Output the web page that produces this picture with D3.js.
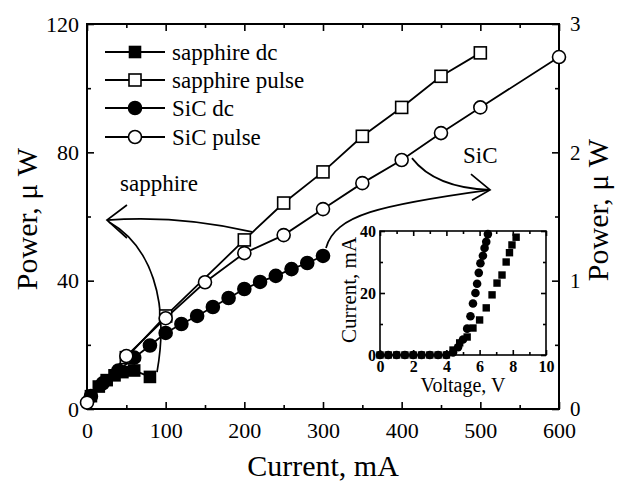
<!DOCTYPE html>
<html>
<head>
<meta charset="utf-8">
<script src="https://cdn.jsdelivr.net/npm/d3@7"></script>
<style>
body { margin: 0; background: #fff; }
text { font-family: "Liberation Serif", "Times New Roman", serif; fill: #000; }
</style>
</head>
<body>
<svg width="618" height="485"></svg>
<script>
// main panel: current (mA) vs power (uW)
var sapphireDcI = [5, 15, 25, 35, 45, 60, 80];
var sapphireDcP = [4, 7, 9, 10.5, 11.5, 12, 10];
var sapphirePulseI = [50, 100, 200, 250, 300, 350, 400, 450, 500];
var sapphirePulseP = [16, 29, 52.7, 64.2, 73.9, 85, 94, 103.7, 111];
var sicDcI = [5, 20, 40, 60, 80, 100, 120, 140, 160, 180, 200, 220, 240, 260, 280, 300];
var sicDcP = [4, 8, 12, 16, 19.8, 23.7, 26.5, 29, 31.8, 34.6, 37.4, 39.6, 41.5, 43.6, 45.5, 47.7];
var sicPulseI = [0, 50, 100, 150, 200, 250, 300, 350, 400, 450, 500, 600];
var sicPulseP = [2, 16.5, 28.3, 39.5, 48.6, 54.2, 62.3, 70.4, 77.6, 86, 94, 109.7];

// inset: voltage (V) vs current (mA)
var sicV = [0, 0.5, 1, 1.5, 2, 2.5, 3, 3.5, 4, 4.4, 4.7, 5.0, 5.25, 5.45, 5.6, 5.75, 5.85, 5.95, 6.05, 6.2, 6.3, 6.4, 6.5];
var sicA = [0, 0, 0, 0, 0, 0, 0, 0, 0, 0.8, 2.5, 5, 8.5, 12.5, 16.6, 20, 23, 26.5, 29.6, 32, 34.5, 36.5, 39];
var sapV = [0, 0.5, 1, 1.5, 2, 2.5, 3, 3.5, 4, 4.4, 4.8, 5.25, 5.6, 6.0, 6.4, 6.75, 7.05, 7.35, 7.6, 7.8, 7.95, 8.2];
var sapA = [0, 0, 0, 0, 0, 0, 0, 0, 0, 1.6, 3.9, 5.8, 8.7, 11.3, 15.2, 19.4, 23.2, 25.8, 30, 33, 35.5, 38];

var xMajor = [0, 100, 200, 300, 400, 500, 600];
var xMinor = [50, 150, 250, 350, 450, 550];
var yMajor = [0, 40, 80, 120];
var yMinor = [20, 60, 100];
var yRMajor = [0, 1, 2, 3];
var yRMinor = [0.5, 1.5, 2.5];
var vMajor = [0, 2, 4, 6, 8, 10];
var vMinor = [1, 3, 5, 7, 9];
var aMajor = [0, 20, 40];
var aMinor = [10, 30];

var legendNames = ["sapphire dc", "sapphire pulse", "SiC dc", "SiC pulse"];

var svg = d3.select("svg");
var pL = 87, pR = 559, pT = 24, pB = 409;

var x = d3.scaleLinear().domain([0, 600]).range([pL, pR]);
var y = d3.scaleLinear().domain([0, 120]).range([pB, pT]);
var yR = d3.scaleLinear().domain([0, 3]).range([pB, pT]);

function zip(a, b) { return a.map(function(d, i) { return [d, b[i]]; }); }

function ticks(g, axis, fs) {
  g.call(axis);
  g.select(".domain").remove();
  g.selectAll("line").attr("stroke-width", 1.6);
  g.attr("font-size", fs);
}

// main axes (inward ticks, all four sides)
ticks(svg.append("g").attr("transform", "translate(0," + pB + ")"),
  d3.axisBottom(x).tickValues(xMajor).tickSizeInner(-7).tickSizeOuter(0).tickPadding(13).tickFormat(d3.format("d")), 22);
ticks(svg.append("g").attr("transform", "translate(0," + pB + ")"),
  d3.axisBottom(x).tickValues(xMinor).tickSizeInner(-4).tickSizeOuter(0).tickFormat(""), 22);
ticks(svg.append("g").attr("transform", "translate(0," + pT + ")"),
  d3.axisTop(x).tickValues(xMajor).tickSizeInner(-7).tickSizeOuter(0).tickFormat(""), 22);
ticks(svg.append("g").attr("transform", "translate(0," + pT + ")"),
  d3.axisTop(x).tickValues(xMinor).tickSizeInner(-4).tickSizeOuter(0).tickFormat(""), 22);
ticks(svg.append("g").attr("transform", "translate(" + pL + ",0)"),
  d3.axisLeft(y).tickValues(yMajor).tickSizeInner(-7).tickSizeOuter(0).tickPadding(8).tickFormat(d3.format("d")), 22);
ticks(svg.append("g").attr("transform", "translate(" + pL + ",0)"),
  d3.axisLeft(y).tickValues(yMinor).tickSizeInner(-4).tickSizeOuter(0).tickFormat(""), 22);
ticks(svg.append("g").attr("transform", "translate(" + pR + ",0)"),
  d3.axisRight(yR).tickValues(yRMajor).tickSizeInner(-7).tickSizeOuter(0).tickPadding(11).tickFormat(d3.format("d")), 21);
ticks(svg.append("g").attr("transform", "translate(" + pR + ",0)"),
  d3.axisRight(yR).tickValues(yRMinor).tickSizeInner(-4).tickSizeOuter(0).tickFormat(""), 21);

svg.append("rect").attr("x", pL).attr("y", pT).attr("width", pR - pL).attr("height", pB - pT)
  .attr("fill", "none").attr("stroke", "#000").attr("stroke-width", 2);

// axis titles
svg.append("text").attr("x", (pL + pR) / 2).attr("y", 476).attr("text-anchor", "middle")
  .attr("font-size", 30).text("Current, mA");
svg.append("text").attr("transform", "translate(37,219) rotate(-90)").attr("text-anchor", "middle")
  .attr("font-size", 30).text("Power, \u03bc W");
svg.append("text").attr("transform", "translate(608,210) rotate(-90)").attr("text-anchor", "middle")
  .attr("font-size", 30).text("Power, \u03bc W");

// annotation arrows (data units)
var ann = svg.append("g").attr("fill", "none").attr("stroke", "#000").attr("stroke-width", 1.7);
function P(a, b) { return x(a) + "," + y(b); }
ann.append("path").attr("d", "M" + P(25.4, 58.9) + "Q" + P(118.2, 60.5) + " " + P(209.7, 55.2));
ann.append("path").attr("d", "M" + P(28, 58.3) + "C" + P(80.1, 51.1) + " " + P(105.5, 34) + " " + P(89, 11.5));
ann.append("path").attr("d", "M" + P(50.8, 63.6) + "L" + P(25.4, 58.9) + "L" + P(50.8, 53.3));
ann.append("path").attr("d", "M" + P(413.1, 78.2) + "Q" + P(442.4, 68.9) + " " + P(512.3, 68.3));
ann.append("path").attr("d", "M" + P(303.8, 50.2) + "C" + P(315.3, 60.5) + " " + P(372.5, 63.6) + " " + P(512.3, 68.3));
ann.append("path").attr("d", "M" + P(488.1, 73.2) + "L" + P(512.3, 68.3) + "L" + P(489.4, 65.1));
svg.append("text").attr("x", x(42)).attr("y", y(68)).attr("font-size", 23).text("sapphire");
svg.append("text").attr("x", x(478)).attr("y", y(76.7)).attr("font-size", 23).text("SiC");

// series
var line = d3.line().x(function(d) { return x(d[0]); }).y(function(d) { return y(d[1]); });
var series = [
  { data: zip(sapphireDcI, sapphireDcP), shape: "square", fill: "#000", size: 11 },
  { data: zip(sapphirePulseI, sapphirePulseP), shape: "square", fill: "#fff", size: 12 },
  { data: zip(sicDcI, sicDcP), shape: "circle", fill: "#000", size: 13 },
  { data: zip(sicPulseI, sicPulseP), shape: "circle", fill: "#fff", size: 13 }
];

function marker(g, s, cx, cy) {
  if (s.shape === "square") {
    g.append("rect").attr("x", cx - s.size / 2).attr("y", cy - s.size / 2)
      .attr("width", s.size).attr("height", s.size)
      .attr("fill", s.fill).attr("stroke", "#000").attr("stroke-width", 1.6);
  } else {
    g.append("circle").attr("cx", cx).attr("cy", cy).attr("r", s.size / 2)
      .attr("fill", s.fill).attr("stroke", "#000").attr("stroke-width", 1.6);
  }
}

series.forEach(function(s) {
  svg.append("path").datum(s.data).attr("d", line)
    .attr("fill", "none").attr("stroke", "#000").attr("stroke-width", 1.8);
});
series.forEach(function(s) {
  var g = svg.append("g");
  s.data.forEach(function(d) { marker(g, s, x(d[0]), y(d[1])); });
});

// legend
var legY = [52, 80, 108, 137];
series.forEach(function(s, i) {
  svg.append("line").attr("x1", 105).attr("x2", 165).attr("y1", legY[i]).attr("y2", legY[i])
    .attr("stroke", "#000").attr("stroke-width", 1.8);
  marker(svg.append("g"), s, 135, legY[i]);
  svg.append("text").attr("x", 172).attr("y", legY[i]).attr("dy", "0.33em")
    .attr("font-size", 23).text(legendNames[i]);
});

// inset
var iL = 380, iR = 546, iT = 231, iB = 355;
var xi = d3.scaleLinear().domain([0, 10]).range([iL, iR]);
var yi = d3.scaleLinear().domain([0, 40]).range([iB, iT]);
svg.append("rect").attr("x", iL).attr("y", iT).attr("width", iR - iL).attr("height", iB - iT).attr("fill", "#fff");

ticks(svg.append("g").attr("transform", "translate(0," + iB + ")").attr("font-weight", "bold"),
  d3.axisBottom(xi).tickValues(vMajor).tickSizeInner(-5).tickSizeOuter(0).tickPadding(6).tickFormat(d3.format("d")), 16);
ticks(svg.append("g").attr("transform", "translate(0," + iB + ")"),
  d3.axisBottom(xi).tickValues(vMinor).tickSizeInner(-3).tickSizeOuter(0).tickFormat(""), 16);
ticks(svg.append("g").attr("transform", "translate(0," + iT + ")"),
  d3.axisTop(xi).tickValues(vMajor).tickSizeInner(-5).tickSizeOuter(0).tickFormat(""), 16);
ticks(svg.append("g").attr("transform", "translate(0," + iT + ")"),
  d3.axisTop(xi).tickValues(vMinor).tickSizeInner(-3).tickSizeOuter(0).tickFormat(""), 16);
ticks(svg.append("g").attr("transform", "translate(" + iL + ",0)").attr("font-weight", "bold"),
  d3.axisLeft(yi).tickValues(aMajor).tickSizeInner(-5).tickSizeOuter(0).tickPadding(4).tickFormat(d3.format("d")), 16);
ticks(svg.append("g").attr("transform", "translate(" + iL + ",0)"),
  d3.axisLeft(yi).tickValues(aMinor).tickSizeInner(-3).tickSizeOuter(0).tickFormat(""), 16);
ticks(svg.append("g").attr("transform", "translate(" + iR + ",0)"),
  d3.axisRight(yi).tickValues(aMajor).tickSizeInner(-5).tickSizeOuter(0).tickFormat(""), 16);
ticks(svg.append("g").attr("transform", "translate(" + iR + ",0)"),
  d3.axisRight(yi).tickValues(aMinor).tickSizeInner(-3).tickSizeOuter(0).tickFormat(""), 16);

var ig = svg.append("g");
zip(sicV, sicA).forEach(function(d) {
  ig.append("circle").attr("cx", xi(d[0])).attr("cy", yi(d[1])).attr("r", 4.3).attr("fill", "#000");
});
zip(sapV, sapA).forEach(function(d) {
  ig.append("rect").attr("x", xi(d[0]) - 3.7).attr("y", yi(d[1]) - 3.7)
    .attr("width", 7.4).attr("height", 7.4).attr("fill", "#000");
});
svg.append("rect").attr("x", iL).attr("y", iT).attr("width", iR - iL).attr("height", iB - iT)
  .attr("fill", "none").attr("stroke", "#000").attr("stroke-width", 1.6);

svg.append("text").attr("x", (iL + iR) / 2).attr("y", 392).attr("text-anchor", "middle")
  .attr("font-size", 20).text("Voltage, V");
svg.append("text").attr("transform", "translate(356,290) rotate(-90)").attr("text-anchor", "middle")
  .attr("font-size", 21).text("Current, mA");
</script>
</body>
</html>
